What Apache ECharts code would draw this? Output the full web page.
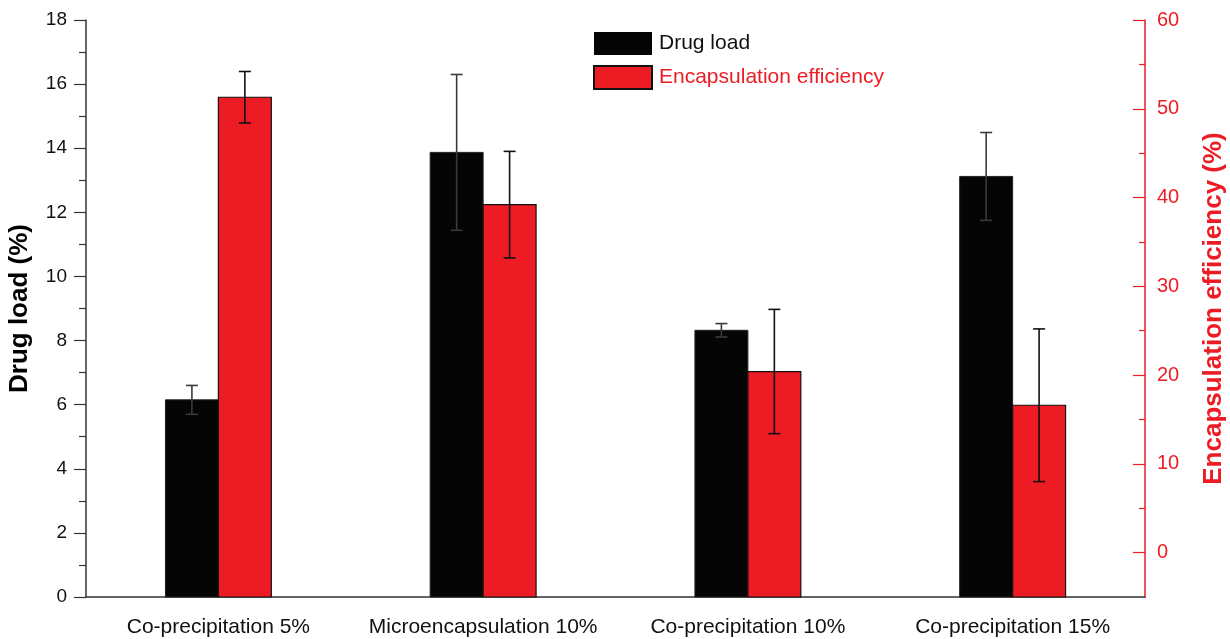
<!DOCTYPE html>
<html>
<head>
<meta charset="utf-8">
<script src="https://cdn.jsdelivr.net/npm/echarts@6/dist/echarts.min.js"></script>
<style>
  html, body { margin: 0; padding: 0; background: #fff; }
  #chart { width: 1230px; height: 639px; }
</style>
</head>
<body>
<div id="chart"></div>
<script>
// Formulations compared
const categories = ['Co-precipitation 5%', 'Microencapsulation 10%', 'Co-precipitation 10%', 'Co-precipitation 15%'];

// Drug load (%) and its standard deviation
const drugLoad = [6.15, 13.87, 8.32, 13.12];
const drugLoadErr = [0.45, 2.43, 0.21, 1.37];

// Encapsulation efficiency (%) and its standard deviation
const encEff = [51.3, 39.2, 20.4, 16.6];
const encEffErr = [2.9, 6.0, 7.0, 8.6];

// Tick values of the right-hand axis
const rightTicks = [0, 10, 20, 30, 40, 50, 60];
const rightMinorTicks = [5, 15, 25, 35, 45, 55];

const RED = '#ed1c24';
const BLACK = '#050505';
const FONT = 'Liberation Sans, Arial, sans-serif';

// Bars rise from the bottom of the plot area; side -1 = left half, +1 = right half of the pair
function bars(side, fill, stroke, lw) {
  return function (params, api) {
    const i = api.value(0), v = api.value(1);
    const band = api.size([1, 0])[0];
    const w = band * 0.2;
    const cx = api.coord([i, v])[0] + side * w / 2;
    const top = api.coord([i, v])[1];
    const bottom = params.coordSys.y + params.coordSys.height;
    return {
      type: 'rect',
      shape: { x: cx - w / 2, y: top, width: w, height: bottom - top },
      style: { fill: fill, stroke: stroke, lineWidth: lw }
    };
  };
}

function errorBars(side, color) {
  return function (params, api) {
    const i = api.value(0), v = api.value(1), e = api.value(2);
    const band = api.size([1, 0])[0];
    const x = api.coord([i, v])[0] + side * band * 0.1;
    const yTop = api.coord([i, v + e])[1];
    const yBot = api.coord([i, v - e])[1];
    const hw = 6;
    const style = { stroke: color, lineWidth: 1.6 };
    return {
      type: 'group',
      children: [
        { type: 'line', shape: { x1: x, y1: yTop, x2: x, y2: yBot }, style: style },
        { type: 'line', shape: { x1: x - hw, y1: yTop, x2: x + hw, y2: yTop }, style: style },
        { type: 'line', shape: { x1: x - hw, y1: yBot, x2: x + hw, y2: yBot }, style: style }
      ]
    };
  };
}

const chart = echarts.init(document.getElementById('chart'));
chart.setOption({
  animation: false,
  backgroundColor: '#fff',
  grid: { left: 86, right: 85, top: 20, bottom: 42, containLabel: false, outerBoundsMode: 'none' },
  legend: {
    orient: 'vertical',
    left: 593,
    top: 32,
    padding: 0,
    icon: 'rect',
    itemWidth: 58,
    itemHeight: 23,
    itemGap: 10,
    selectedMode: false,
    data: [
      { name: 'Drug load', textStyle: { color: '#111' } },
      { name: 'Encapsulation efficiency', textStyle: { color: RED } }
    ],
    textStyle: { fontFamily: FONT, fontSize: 21, padding: [0, 0, 0, 2] }
  },
  xAxis: [
    {
      type: 'category',
      data: categories,
      axisLine: { lineStyle: { color: '#333', width: 1.5 } },
      axisTick: { alignWithLabel: true, length: 12, lineStyle: { color: '#333', width: 1.2 } },
      axisLabel: { interval: 0, color: '#111', fontFamily: FONT, fontSize: 21, margin: 20 }
    },
    {
      type: 'category',
      data: categories,
      position: 'bottom',
      axisLine: { show: false },
      axisTick: { length: 6, lineStyle: { color: '#333', width: 1.2 } },
      axisLabel: { show: false }
    }
  ],
  yAxis: [
    {
      type: 'value',
      min: 0,
      max: 18,
      interval: 2,
      position: 'left',
      name: 'Drug load (%)',
      nameLocation: 'middle',
      nameGap: 53,
      nameRotate: 90,
      nameTextStyle: { color: '#000', fontFamily: FONT, fontSize: 26, fontWeight: 'bold' },
      axisLine: { show: true, lineStyle: { color: '#333', width: 1.5 } },
      axisTick: { show: true, length: 12, lineStyle: { color: '#333', width: 1.2 } },
      minorTick: { show: true, splitNumber: 2, length: 7, lineStyle: { color: '#333', width: 1.2 } },
      axisLabel: { color: '#111', fontFamily: FONT, fontSize: 19, margin: 19 },
      splitLine: { show: false }
    },
    {
      type: 'value',
      min: -5,
      max: 60,
      position: 'right',
      name: 'Encapsulation efficiency (%)',
      nameLocation: 'middle',
      nameGap: 56,
      nameRotate: 90,
      nameTextStyle: { color: RED, fontFamily: FONT, fontSize: 26, fontWeight: 'bold' },
      axisLine: { show: true, lineStyle: { color: RED, width: 1.5 } },
      axisTick: { show: true, inside: true, length: 12, lineStyle: { color: RED, width: 1.2 },
                  customValues: rightTicks },
      axisLabel: { color: RED, fontFamily: FONT, fontSize: 20, margin: 12, customValues: rightTicks },
      splitLine: { show: false }
    },
    {
      type: 'value',
      min: -5,
      max: 60,
      position: 'right',
      axisLine: { show: false },
      axisTick: { show: true, inside: true, length: 6, lineStyle: { color: RED, width: 1.2 },
                  customValues: rightMinorTicks },
      axisLabel: { show: false, customValues: rightMinorTicks },
      splitLine: { show: false }
    }
  ],
  series: [
    {
      name: 'Drug load',
      type: 'custom',
      yAxisIndex: 0,
      renderItem: bars(-1, BLACK, '#222', 1),
      itemStyle: { color: BLACK },
      data: drugLoad.map((v, i) => [i, v]),
      z: 2
    },
    {
      name: 'Encapsulation efficiency',
      type: 'custom',
      yAxisIndex: 1,
      renderItem: bars(1, RED, '#111', 1.2),
      itemStyle: { color: RED, borderColor: '#111', borderWidth: 1.2 },
      data: encEff.map((v, i) => [i, v]),
      z: 2
    },
    {
      type: 'custom',
      yAxisIndex: 0,
      renderItem: errorBars(-1, '#3a3a3a'),
      data: drugLoad.map((v, i) => [i, v, drugLoadErr[i]]),
      z: 10,
      silent: true
    },
    {
      type: 'custom',
      yAxisIndex: 1,
      renderItem: errorBars(1, '#111'),
      data: encEff.map((v, i) => [i, v, encEffErr[i]]),
      z: 10,
      silent: true
    }
  ]
});
</script>
</body>
</html>
